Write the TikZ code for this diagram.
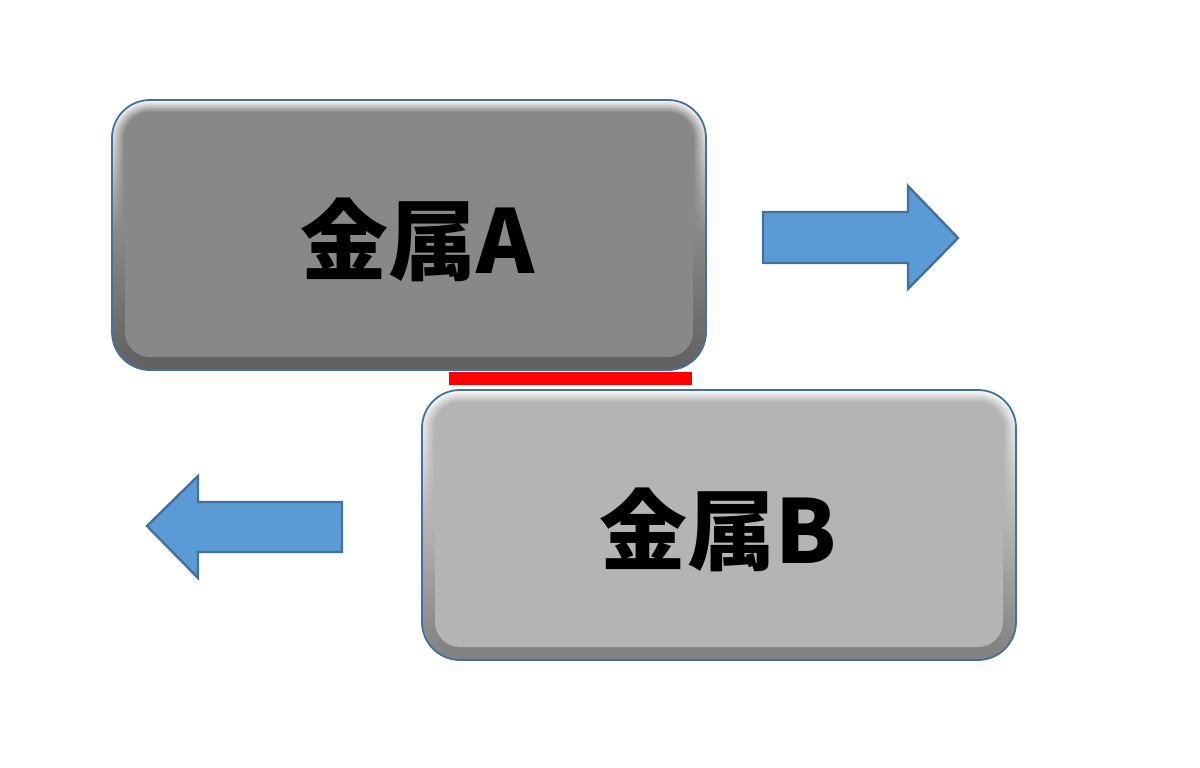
\documentclass[tikz,border=0pt]{standalone}
\usepackage{fontspec}
\newfontfamily\cjk{Noto Sans CJK JP}
\usetikzlibrary{calc}
\definecolor{gA}{HTML}{888888}
\definecolor{gB}{HTML}{B4B4B4}
\definecolor{edgeblue}{HTML}{41719C}
\definecolor{arrowfill}{HTML}{5B9BD5}
\definecolor{redbar}{HTML}{FF0000}
\tikzset{
  metalbox/.style={draw=edgeblue, line width=1.8pt, rounded corners=38pt, minimum width=594pt, minimum height=270pt, inner sep=0pt},
  metallabel/.style={font=\cjk\bfseries\fontsize{88}{90}\selectfont, text=black},
  blockarrow/.style={fill=arrowfill, draw=edgeblue, line width=2.4pt, line join=miter},
}
\newcommand{\bevelbox}[5]{% #1 x0, #2 y0, #3 x1, #4 y1, #5 base colour
  \foreach \i in {0,...,12}{
    \pgfmathsetmacro\p{100*\i/12}
    \pgfmathsetmacro\rr{38-\i}
    \shade[rounded corners=\rr pt, top color=#5!\p!white, bottom color=#5!\p!#5!72!black, middle color=#5]
      (#1+\i,#2+\i) rectangle (#3-\i,#4-\i);
  }
  \fill[#5, rounded corners=25pt] (#1+13,#2+13) rectangle (#3-13,#4-13);
}
\begin{document}
\begin{tikzpicture}[x=1pt,y=-1pt]
\fill[white] (0,0) rectangle (1200,768);
\useasboundingbox (0,0) rectangle (1200,768);
% metal A
\bevelbox{112}{100}{706}{370}{gA}
\node[metalbox] (boxA) at (409,235) {};
\node[metallabel] (labA) at (418,240) {金属A};
% metal B
\bevelbox{422}{390}{1016}{660}{gB}
\node[metalbox] (boxB) at (719,525) {};
\node[metallabel] (labB) at (718,530) {金属B};
% contact
\fill[redbar] (449,372) rectangle (692,385);
% arrows
\draw[blockarrow] (763,212) -- (908,212) -- (908,186) -- (958,238) -- (908,289) -- (908,263) -- (763,263) -- cycle;
\draw[blockarrow] (342,502) -- (198,502) -- (198,476) -- (147,526) -- (198,578) -- (198,552) -- (342,552) -- cycle;
\end{tikzpicture}
\end{document}
